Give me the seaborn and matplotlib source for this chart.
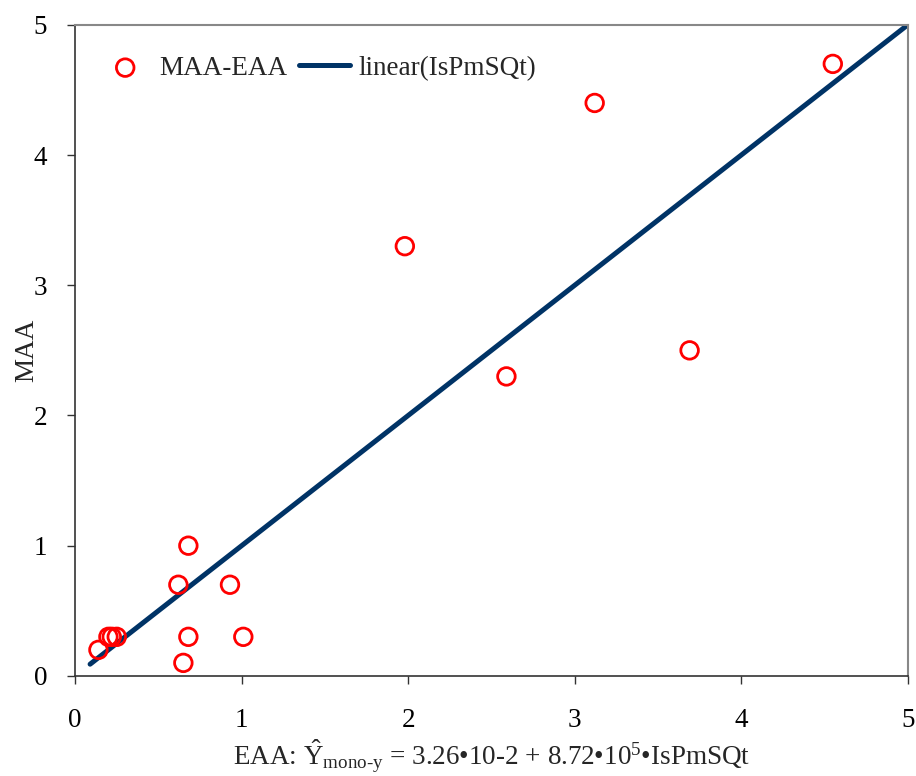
import matplotlib
matplotlib.use("Agg")
import matplotlib.pyplot as plt
import pandas as pd
import seaborn as sns

# observed vs estimated values
eaa = [4.55, 3.12, 1.98, 2.59, 3.69, 0.68, 0.62, 0.93, 0.68, 1.01, 0.65, 0.14, 0.20, 0.22, 0.25]
maa = [4.70, 4.40, 3.30, 2.30, 2.50, 1.00, 0.70, 0.70, 0.30, 0.30, 0.10, 0.20, 0.30, 0.30, 0.30]
line_x = [0.09, 5.0]
line_y = [0.09, 5.0]

sns.set_style("white")
plt.rcParams["font.family"] = ["Liberation Serif", "DejaVu Serif"]
plt.rcParams["mathtext.fontset"] = "custom"
plt.rcParams["mathtext.rm"] = "Liberation Serif"
plt.rcParams["mathtext.it"] = "Liberation Serif:italic"

df = pd.DataFrame({"EAA": eaa, "MAA": maa})
lf = pd.DataFrame({"x": line_x, "y": line_y})

fig, ax = plt.subplots(figsize=(9.16, 7.76), dpi=100)
fig.subplots_adjust(left=0.082, right=0.991, top=0.968, bottom=0.129)

sns.scatterplot(data=df, x="EAA", y="MAA", ax=ax, marker="o", s=160,
                facecolor="none", edgecolor="#ff0000", linewidth=2,
                label="MAA-EAA", zorder=3)
sns.lineplot(data=lf, x="x", y="y", ax=ax, color="#003366", linewidth=3.6,
             label="linear(IsPmSQt)", zorder=2, solid_capstyle="round")

ax.set_xlim(0, 5)
ax.set_ylim(0, 5)
ax.set_xticks(range(6))
ax.set_yticks(range(6))
ax.tick_params(axis="both", labelsize=19.5, direction="out", length=6, width=1,
               left=True, bottom=True, colors="#333333", labelcolor="black")
ax.tick_params(axis="x", pad=17)
ax.tick_params(axis="y", pad=14)

for side in ["left", "bottom"]:
    ax.spines[side].set_color("#333333")
    ax.spines[side].set_linewidth(1.2)
for side in ["top", "right"]:
    ax.spines[side].set_color("#888888")
    ax.spines[side].set_linewidth(1.5)

ax.set_ylabel("MAA", fontsize=19.5, labelpad=-4)
ax.set_xlabel(r"EAA: $\hat{\mathrm{Y}}_{\mathrm{mono}\text{-}\mathrm{y}}$ = 3.26•10-2 + 8.72•10$^{5}$•IsPmSQt",
              fontsize=19.5, labelpad=4)

ax.legend(loc="upper left", ncol=2, frameon=False, fontsize=19.5,
          bbox_to_anchor=(0.0, 0.99), handlelength=1.9, columnspacing=0.4,
          handletextpad=0.32)

fig.savefig("out.png", dpi=100)
